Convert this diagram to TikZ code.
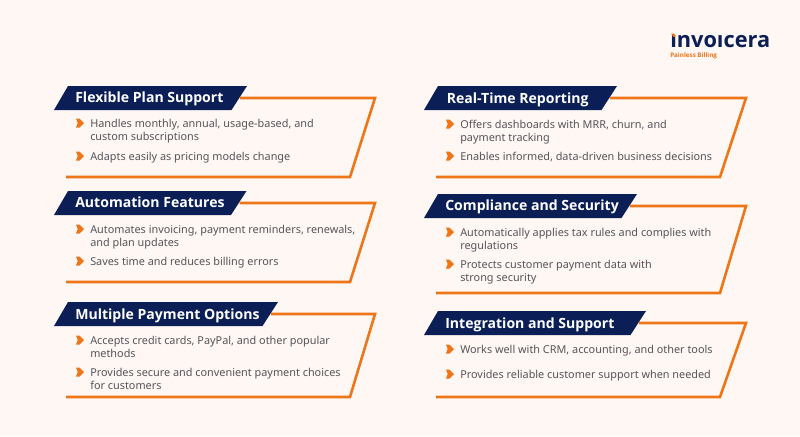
\documentclass[tikz,border=0pt]{standalone}
\usepackage{fontspec}
\setmainfont{Noto Sans}
\newfontfamily\headf{Open Sans}
\definecolor{bgc}{HTML}{FEF7F3}
\definecolor{navy}{HTML}{0B1F56}
\definecolor{org}{HTML}{EE7518}
\definecolor{txt}{HTML}{55555A}
\tikzset{
 x=0.75pt,y=-0.75pt,
 frameline/.style={draw=org,line width=1.95pt,miter limit=10},
 banner/.style={fill=navy,draw=none},
 head/.style={anchor=base west,text=white,font=\headf\fontsize{10.55}{12}\selectfont\bfseries,inner sep=0pt},
 body/.style={anchor=north west,text=txt,font=\fontsize{8.15}{10}\selectfont,inner sep=0pt,align=left},
 tick/.style={fill=org,draw=none},
}
\def\hbase{16}
\def\hoff{21}
\newcommand{\panel}[8]{%
 \coordinate (#1s) at (#4-7,#3+12);
 \coordinate (#1a) at (#7,#3+12);
 \coordinate (#1b) at (#8,#5);
 \coordinate (#1c) at (#2+12,#5);
 \draw[frameline] (#1s) -- (#1a) -- (#1b) -- (#1c);
 \fill[banner] (#2,#3+24) -- (#2+14,#3) -- (#4,#3) -- (#4-15.5,#3+24) -- cycle;
 \node[head] (#1h) at (#2+\hoff,#3+\hbase) {#6};
}
\newcommand{\tickmark}[2]{%
 \fill[tick] (#1-3.5,#2-4.5) -- (#1,#2-4.5) -- (#1+4.5,#2) -- (#1,#2+4.5) -- (#1-3.5,#2+4.5) -- (#1-1.8,#2) -- cycle;
}
\newcommand{\bullettext}[5]{%
 \tickmark{#2}{#3}
 \node[body] (#1) at (#2+10.5,#3-4) {#4};
}
\begin{document}
\begin{tikzpicture}
\fill[bgc] (0,0) rectangle (800,436);
\useasboundingbox (0,0) rectangle (800,436);
% logo
\node[anchor=west,inner sep=0pt,text=navy,font=\headf\fontsize{16.3}{16.3}\selectfont\bfseries] (logo) at (670,42) {ınvoıcera};
\fill[org] (671,33.5) -- (674.5,33.5) -- (675.5,37) -- (673.5,37) -- cycle;
\node[anchor=west,inner sep=0pt,text=org,font=\headf\fontsize{4.7}{5}\selectfont\bfseries] (tag) at (670,55.5) {Painless Billing};
% left
\def\hbase{16.4}
\panel{a}{54}{86}{247}{177}{Flexible Plan Support}{375}{350}
\bullettext{a1}{79.5}{123}{Handles monthly, annual, usage-based, and\\custom subscriptions}{}
\bullettext{a2}{79.5}{156}{Adapts easily as pricing models change}{}
\def\hbase{16}
\panel{b}{54}{191}{246.5}{282}{Automation Features}{375}{350}
\bullettext{b1}{79.5}{229}{Automates invoicing, payment reminders, renewals,\\and plan updates}{}
\bullettext{b2}{79.5}{261}{Saves time and reduces billing errors}{}
\def\hbase{17}
\panel{c}{54}{302}{278}{397}{Multiple Payment Options}{375}{350}
\bullettext{c1}{79.5}{340}{Accepts credit cards, PayPal, and other popular\\methods}{}
\bullettext{c2}{79.5}{372}{Provides secure and convenient payment choices\\for customers}{}
% right
\def\hbase{17.4}\def\hoff{22.5}
\panel{d}{424}{86}{617}{177}{Real-Time Reporting}{746}{720}
\bullettext{d1}{449.5}{124}{Offers dashboards with MRR, churn, and\\payment tracking}{}
\bullettext{d2}{449.5}{156}{Enables informed, data-driven business decisions}{}
\def\hbase{16}\def\hoff{21}
\panel{e}{424}{194}{637}{293}{Compliance and Security}{746}{720}
\bullettext{e1}{449.5}{232}{Automatically applies tax rules and complies with\\regulations}{}
\bullettext{e2}{449.5}{264}{Protects customer payment data with\\strong security}{}
\def\hbase{17.4}
\panel{f}{424}{311}{646}{397}{Integration and Support}{746}{720}
\bullettext{f1}{449.5}{349}{Works well with CRM, accounting, and other tools}{}
\bullettext{f2}{449.5}{374}{Provides reliable customer support when needed}{}
\end{tikzpicture}
\end{document}
